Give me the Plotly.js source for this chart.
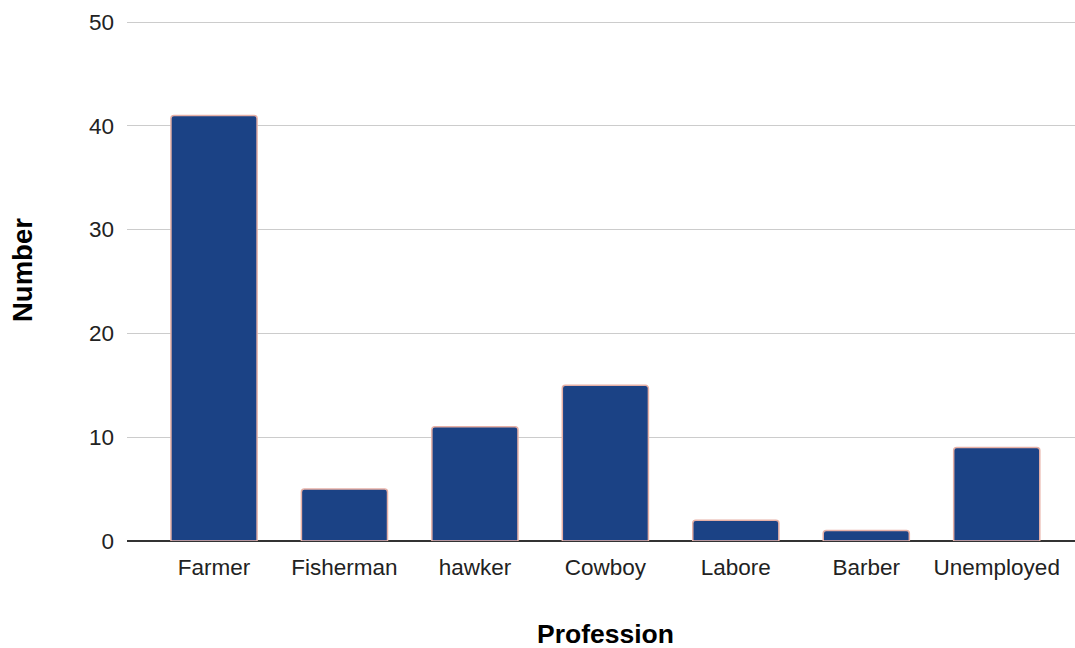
<!DOCTYPE html>
<html>
<head>
<meta charset="utf-8">
<script src="https://cdn.plot.ly/plotly-3.0.1.min.js"></script>
<style>html,body{margin:0;padding:0;background:#fff;}#chart{width:1075px;height:648px;}</style>
</head>
<body>
<div id="chart"></div>
<script>
const categories = ["Farmer", "Fisherman", "hawker", "Cowboy", "Labore", "Barber", "Unemployed"];
const values = [41, 5, 11, 15, 2, 1, 9];
const yTicks = [0, 10, 20, 30, 40, 50];
const xTitle = "Profession";
const yTitle = "Number";

const font = "Liberation Sans, Arial, sans-serif";
const plotTop = 11, plotBottom = 541, plotLeft = 127, plotW = 948;
const plotH = plotBottom - plotTop;
const pxPerUnit = 10.38;
const trace = {
  type: "bar",
  x: categories,
  y: values,
  width: 0.66,
  marker: {color: "#1b4285", line: {color: "#e6b0a6", width: 1.5}, cornerradius: 3},
  hoverinfo: "x+y"
};
const layout = {
  width: 1075, height: 648,
  margin: {l: plotLeft, r: 0, t: plotTop, b: 648 - plotBottom},
  paper_bgcolor: "#fff", plot_bgcolor: "#fff",
  showlegend: false,
  font: {family: font, color: "#222"},
  xaxis: {
    type: "category",
    range: [-0.667, 6.6],
    showgrid: false, showline: false, zeroline: false,
    ticks: "", tickfont: {size: 22.5, family: font, color: "#222"},
    ticklabelstandoff: 10
  },
  yaxis: {
    range: [0, plotH / pxPerUnit],
    tickvals: yTicks, ticktext: yTicks.map(String),
    showgrid: true, gridcolor: "#cccccc", gridwidth: 1,
    zeroline: true, zerolinecolor: "#333", zerolinewidth: 1.5,
    showline: false, ticks: "",
    tickfont: {size: 22.5, family: font, color: "#222"},
    ticklabelstandoff: 12
  },
  annotations: [
    {text: "<b>" + xTitle + "</b>", xref: "paper", yref: "paper", x: (605 - plotLeft) / plotW, y: -(634 - plotBottom) / plotH,
     xanchor: "center", yanchor: "middle", showarrow: false, font: {size: 26.5, family: font, color: "#000"}},
    {text: "<b>" + yTitle + "</b>", xref: "paper", yref: "paper", x: -(plotLeft - 22) / plotW, y: (plotBottom - 270) / plotH,
     xanchor: "center", yanchor: "middle", textangle: -90, showarrow: false, font: {size: 27.5, family: font, color: "#000"}}
  ]
};
Plotly.newPlot("chart", [trace], layout, {displayModeBar: false, staticPlot: true});
</script>
</body>
</html>
